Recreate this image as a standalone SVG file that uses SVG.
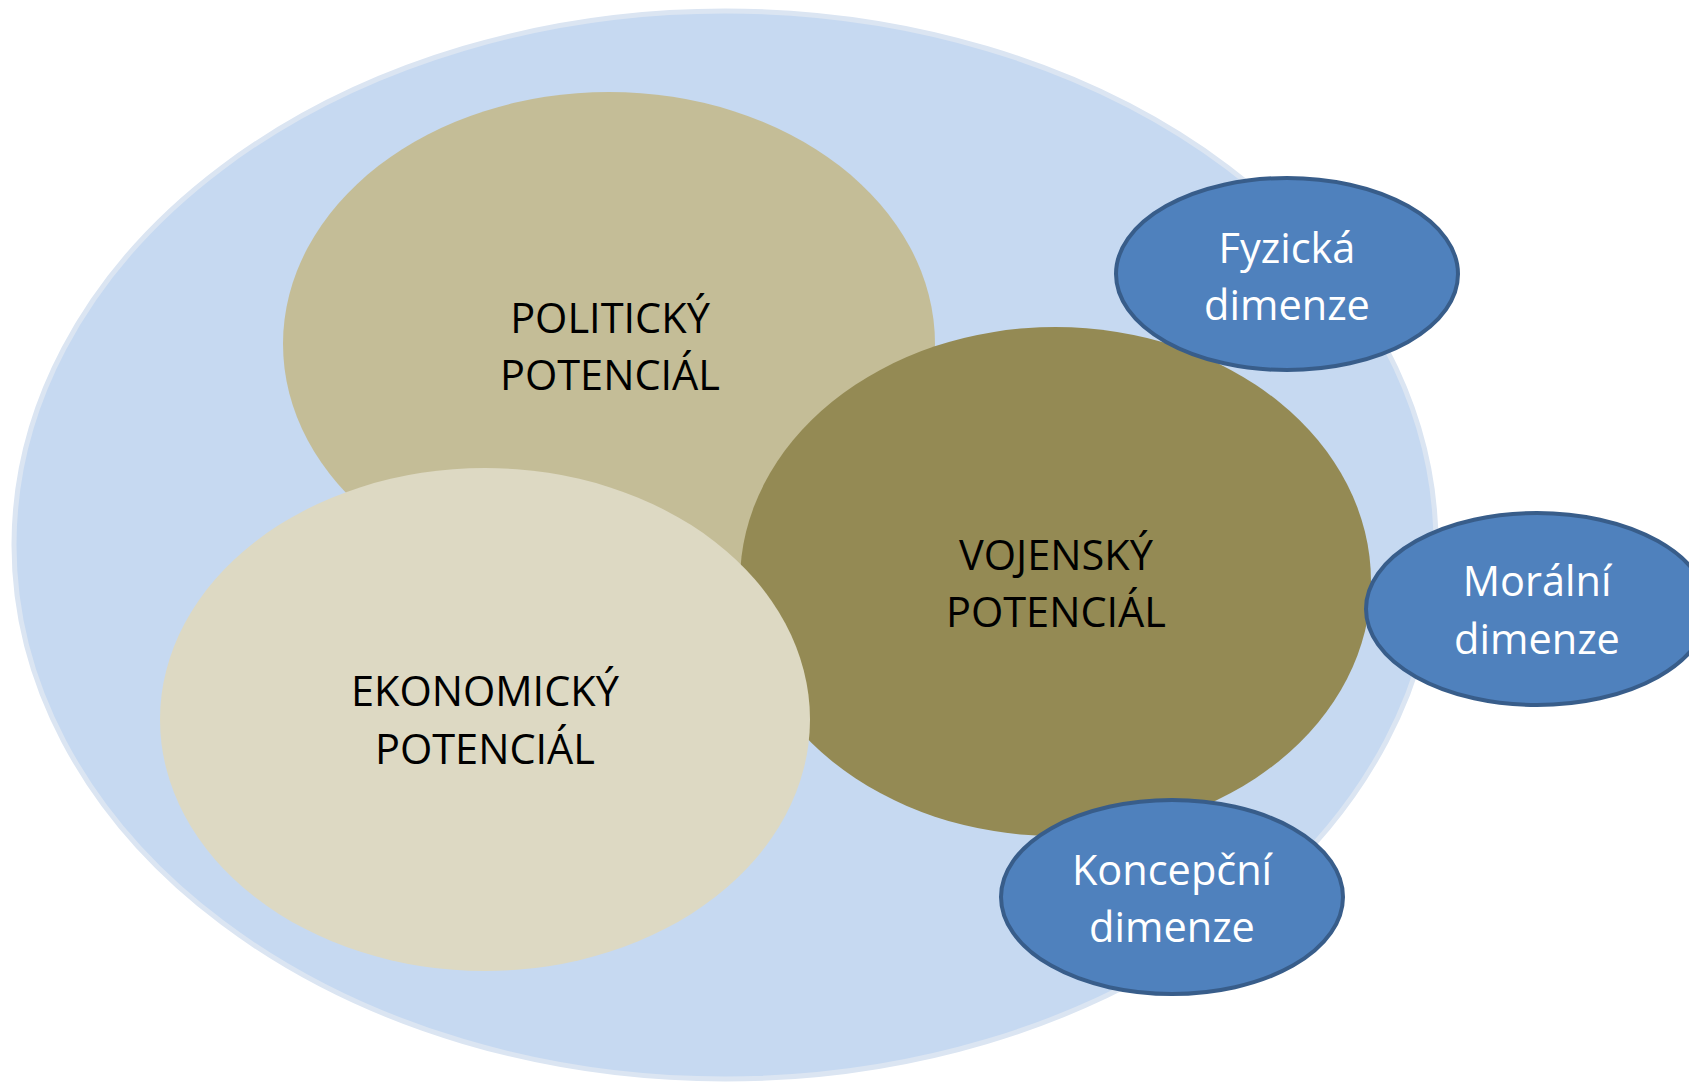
<svg xmlns="http://www.w3.org/2000/svg" width="1689" height="1083" viewBox="0 0 1689 1083">
<style>
.lbl{font-family:"Open Sans","Noto Sans","Liberation Sans",sans-serif;font-size:41.5px;text-anchor:middle}
.dark{fill:#000000}
.light{fill:#ffffff}
.dim{fill:#4f81bd;stroke:#385d8a;stroke-width:4}
</style>
<rect width="1689" height="1083" fill="#ffffff"/>
<g id="outer">
<ellipse cx="725" cy="545" rx="711" ry="534" fill="#c6d9f1" stroke="#dbe5f2" stroke-width="5"/>
</g>
<g id="politicky">
<ellipse cx="609" cy="344" rx="326" ry="252" fill="#c4bd97"/>
<text class="lbl dark" x="610" y="333">POLITICKÝ</text>
<text class="lbl dark" x="610" y="390">POTENCIÁL</text>
</g>
<g id="vojensky">
<ellipse cx="1055.5" cy="581.5" rx="315.5" ry="254.5" fill="#948a54"/>
<text class="lbl dark" x="1056" y="570">VOJENSKÝ</text>
<text class="lbl dark" x="1056" y="627">POTENCIÁL</text>
</g>
<g id="ekonomicky">
<ellipse cx="485" cy="719.5" rx="325" ry="251.5" fill="#ddd9c3"/>
<text class="lbl dark" x="485" y="706">EKONOMICKÝ</text>
<text class="lbl dark" x="485" y="764">POTENCIÁL</text>
</g>
<g id="fyzicka">
<ellipse class="dim" cx="1287" cy="274" rx="171" ry="96"/>
<text class="lbl light" x="1287" y="263">Fyzická</text>
<text class="lbl light" x="1287" y="320">dimenze</text>
</g>
<g id="moralni">
<ellipse class="dim" cx="1537" cy="609" rx="171" ry="96"/>
<text class="lbl light" x="1537" y="596">Morální</text>
<text class="lbl light" x="1537" y="654">dimenze</text>
</g>
<g id="koncepcni">
<ellipse class="dim" cx="1172" cy="897" rx="171" ry="97"/>
<text class="lbl light" x="1172" y="885">Koncepční</text>
<text class="lbl light" x="1172" y="942">dimenze</text>
</g>
<g id="connectors"></g>
</svg>
